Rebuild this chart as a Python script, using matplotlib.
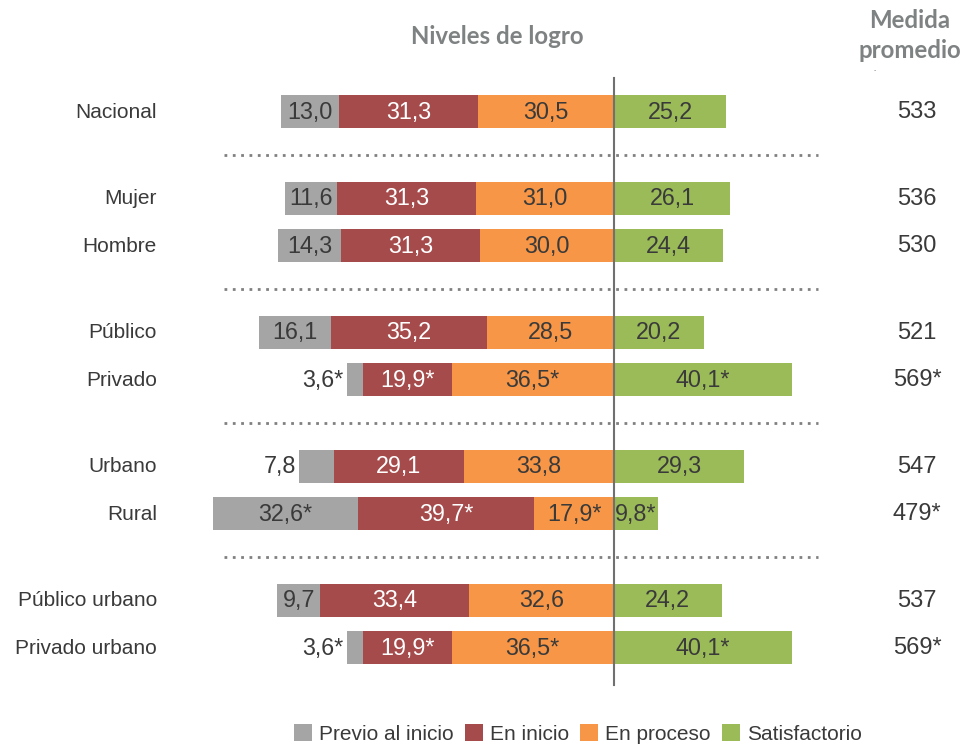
import matplotlib
matplotlib.use("Agg")
import matplotlib.pyplot as plt
from matplotlib.patches import Patch

categories = ["Nacional", "Mujer", "Hombre", "Público", "Privado", "Urbano", "Rural",
              "Público urbano", "Privado urbano"]
groups = [1, 2, 2, 2, 2]  # rows per group
previo = [13.0, 11.6, 14.3, 16.1, 3.6, 7.8, 32.6, 9.7, 3.6]
en_inicio = [31.3, 31.3, 31.3, 35.2, 19.9, 29.1, 39.7, 33.4, 19.9]
en_proceso = [30.5, 31.0, 30.0, 28.5, 36.5, 33.8, 17.9, 32.6, 36.5]
satisfactorio = [25.2, 26.1, 24.4, 20.2, 40.1, 29.3, 9.8, 24.2, 40.1]
significant = [False, False, False, False, True, False, True, False, True]
medida = [533, 536, 530, 521, 569, 547, 479, 537, 569]
legend_labels = ["Previo al inicio", "En inicio", "En proceso", "Satisfactorio"]

colors = ["#A5A5A5", "#A64B4B", "#F79646", "#9BBB59"]
txt_colors = ["#3a3a3a", "white", "#3a3a3a", "#3a3a3a"]
dark = "#3a3a3a"
head = "#7f8282"
FONT = "Liberation Sans"
VAL_FS = 16.8

W, H = 965, 745
fig = plt.figure(figsize=(W / 100, H / 100), dpi=100)
ax = fig.add_axes([0, 0, 1, 1])
scale = 4.45  # px per percentage unit
center = 614
ax.set_xlim(-center / scale, (W - center) / scale)
ax.set_ylim(H, 0)
ax.axis("off")

# row positions (pixel layout)
ypos = []
y = 111
step, gap = 47, 40
sep_lines = []
for gi, n in enumerate(groups):
    if gi > 0:
        y_prev = ypos[-1]
        y = y_prev + step + gap
        sep_lines.append((y_prev + y) / 2)
    for k in range(n):
        ypos.append(y + k * step)

bh = 33

def fmt(v, s):
    t = f"{v:.1f}".replace(".", ",")
    return t + ("*" if s else "")

for i, cat in enumerate(categories):
    yc = ypos[i]
    segs = [
        (-(previo[i] + en_inicio[i] + en_proceso[i]), previo[i]),
        (-(en_inicio[i] + en_proceso[i]), en_inicio[i]),
        (-en_proceso[i], en_proceso[i]),
        (0, satisfactorio[i]),
    ]
    vals = [previo[i], en_inicio[i], en_proceso[i], satisfactorio[i]]
    for j, (left, w) in enumerate(segs):
        ax.barh(yc, w, left=left, height=bh, color=colors[j], edgecolor="none")
        label = fmt(vals[j], significant[i])
        if j == 0 and vals[j] < 9:
            ax.text(left - 0.8, yc + 1, label, ha="right", va="center", fontsize=VAL_FS,
                    color=dark, family=FONT)
        else:
            ax.text(left + w / 2, yc + 1, label, ha="center", va="center", fontsize=VAL_FS,
                    color=txt_colors[j], family=FONT)
    ax.text(-(center - 157) / scale, yc + 1, cat, ha="right", va="center", fontsize=15,
            color=dark, family=FONT)
    ax.text((917 - center) / scale, yc + 1, str(medida[i]) + ("*" if significant[i] else ""),
            ha="center", va="center", fontsize=17, color=dark, family=FONT)

for ys in sep_lines:
    ax.plot([(224 - center) / scale, (818 - center) / scale], [ys, ys],
            color="#808080", lw=2, linestyle=(0, (1, 2)))

ax.plot([0, 0], [78, 685], color="#707070", lw=1.5)

ax.text((497 - center) / scale, 37, "Niveles de logro", ha="center", va="center",
        fontsize=17.3, fontweight="bold", color=head, family="Lato")
ax.text((910 - center) / scale, 20, "Medida", ha="center", va="center",
        fontsize=17.3, fontweight="bold", color=head, family="Lato")
ax.text((910 - center) / scale, 50, "promedio", ha="center", va="center",
        fontsize=17.3, fontweight="bold", color=head, family="Lato")
ax.text((875 - center) / scale, 71, "-", ha="center", va="center",
        fontsize=5, color=head, family=FONT)

handles = [Patch(facecolor=c, edgecolor="none") for c in colors]
leg = fig.legend(handles, legend_labels, ncol=4, loc="center",
                 bbox_to_anchor=(578 / W, 1 - 734 / H), frameon=False,
                 handlelength=0.87, handleheight=0.87, columnspacing=0.53,
                 handletextpad=0.34, prop={"family": FONT, "size": 15})
for t in leg.get_texts():
    t.set_color(dark)

fig.savefig("out.png", dpi=100, facecolor="white")
